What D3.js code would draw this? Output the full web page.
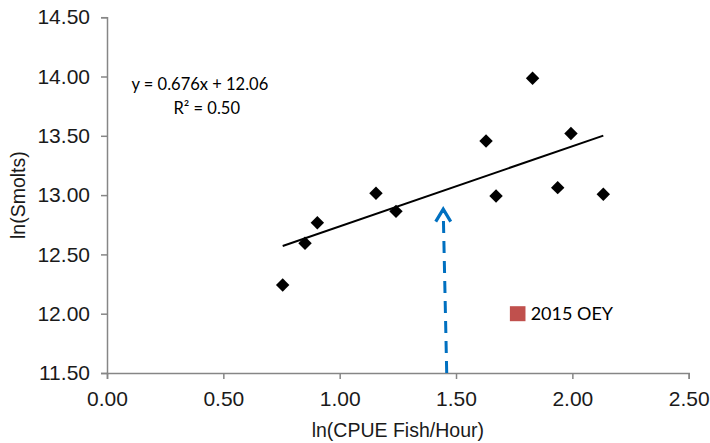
<!DOCTYPE html>
<html>
<head>
<meta charset="utf-8">
<script src="https://cdn.jsdelivr.net/npm/d3@7"></script>
<style>
  html, body { margin: 0; padding: 0; background: #fff; }
  svg { display: block; }
</style>
</head>
<body>
<svg id="chart" width="710" height="443"></svg>
<script>
// Smolt abundance vs. catch per unit effort (both log-transformed)
const cpue   = [0.755, 0.851, 0.904, 1.156, 1.242, 1.629, 1.672, 1.829, 1.937, 1.994, 2.133];
const smolts = [12.242, 12.594, 12.767, 13.015, 12.863, 13.456, 12.992, 13.985, 13.063, 13.520, 13.007];

// Linear trend fitted to the points above
const trendSlope = 0.676;
const trendIntercept = 12.06;
const trendR2 = 0.50;

// 2015 OEY marker
const oeyLabel = "2015 OEY";
const oeyX = [1.765];
const oeyY = [12.0];

// Projection arrow from the axis up toward the trend line
const arrowX = [1.46, 1.445];
const arrowY = [11.5, 12.89];

const xTicks = [0, 0.5, 1, 1.5, 2, 2.5];
const yTicks = [11.5, 12, 12.5, 13, 13.5, 14, 14.5];
const xTitle = "ln(CPUE Fish/Hour)";
const yTitle = "ln(Smolts)";

const svg = d3.select("#chart");
const plotLeft = 107, plotRight = 688.7, plotTop = 17.2, plotBottom = 373;

const x = d3.scaleLinear().domain([0, 2.5]).range([plotLeft, plotRight]);
const y = d3.scaleLinear().domain([11.5, 14.5]).range([plotBottom, plotTop]);

const axisColor = "#868686";
const tickFont = "'Liberation Sans', Arial, sans-serif";
const textColor = "#1a1a1a";

// Axes
const xAxis = svg.append("g")
  .attr("transform", `translate(0,${plotBottom})`)
  .call(d3.axisBottom(x).tickValues(xTicks).tickFormat(d3.format(".2f")).tickSizeOuter(0).tickSize(6).tickPadding(12));
const yAxis = svg.append("g")
  .attr("transform", `translate(${plotLeft},0)`)
  .call(d3.axisLeft(y).tickValues(yTicks).tickFormat(d3.format(".2f")).tickSizeOuter(0).tickSize(6).tickPadding(11));

[xAxis, yAxis].forEach(g => {
  g.select(".domain").attr("stroke", axisColor).attr("stroke-width", 1.5);
  g.selectAll(".tick line").attr("stroke", axisColor).attr("stroke-width", 1.5);
  g.selectAll(".tick text")
    .attr("fill", textColor)
    .style("font-family", tickFont)
    .style("font-size", "21px");
});

// Axis titles
svg.append("text")
  .attr("x", (plotLeft + plotRight) / 2)
  .attr("y", 437)
  .attr("text-anchor", "middle")
  .attr("fill", textColor)
  .style("font-family", tickFont)
  .style("font-size", "19.5px")
  .text(xTitle);

svg.append("text")
  .attr("transform", `translate(25,${(plotTop + plotBottom) / 2}) rotate(-90)`)
  .attr("text-anchor", "middle")
  .attr("fill", textColor)
  .style("font-family", tickFont)
  .style("font-size", "19.5px")
  .text(yTitle);

// Trend line over the range of the data
const xr = d3.extent(cpue);
const trend = xr.map(v => [v, trendSlope * v + trendIntercept]);
svg.append("path")
  .attr("d", d3.line().x(d => x(d[0])).y(d => y(d[1]))(trend))
  .attr("fill", "none")
  .attr("stroke", "#000")
  .attr("stroke-width", 2);

// Data points (diamonds)
const diamond = d3.symbol().type(d3.symbolDiamond2).size(115);
svg.append("g").selectAll("path")
  .data(cpue.map((v, i) => [v, smolts[i]]))
  .join("path")
  .attr("transform", d => `translate(${x(d[0])},${y(d[1])})`)
  .attr("d", diamond)
  .attr("fill", "#000");

// Projection arrow (dashed shaft, open head)
const ax0 = x(arrowX[0]), ay0 = y(arrowY[0]);
const ax1 = x(arrowX[1]), ay1 = y(arrowY[1]);
svg.append("line")
  .attr("x1", ax0).attr("y1", ay0)
  .attr("x2", ax1).attr("y2", ay1 + 2)
  .attr("stroke", "#0070C0")
  .attr("stroke-width", 3)
  .attr("stroke-dasharray", "12 8");
svg.append("path")
  .attr("d", `M${ax1 - 7.5},${ay1 + 13.5} L${ax1},${ay1 + 1} L${ax1 + 7.5},${ay1 + 13.5}`)
  .attr("fill", "none")
  .attr("stroke", "#0070C0")
  .attr("stroke-width", 3.2);

// 2015 OEY marker and label
const oey = svg.append("g");
oey.selectAll("rect")
  .data(oeyX.map((v, i) => [v, oeyY[i]]))
  .join("rect")
  .attr("x", d => x(d[0]) - 7.8)
  .attr("y", d => y(d[1]) - 7.5)
  .attr("width", 15.6)
  .attr("height", 15)
  .attr("fill", "#C0504D");
oey.append("text")
  .attr("x", x(oeyX[0]) + 13)
  .attr("y", y(oeyY[0]) + 6.5)
  .attr("fill", "#000")
  .style("font-family", "Lato, 'Open Sans', sans-serif")
  .style("font-size", "18px")
  .text(oeyLabel);

// Trend equation and R²
const eq = svg.append("g")
  .attr("fill", "#000")
  .style("font-family", "Lato, 'Open Sans', sans-serif")
  .style("font-size", "16.5px");
eq.append("text")
  .attr("x", 131.5).attr("y", 90)
  .text(`y = ${trendSlope.toFixed(3)}x + ${trendIntercept.toFixed(2)}`);
eq.append("text")
  .attr("x", 173.5).attr("y", 114)
  .text(`R² = ${trendR2.toFixed(2)}`);
</script>
</body>
</html>
